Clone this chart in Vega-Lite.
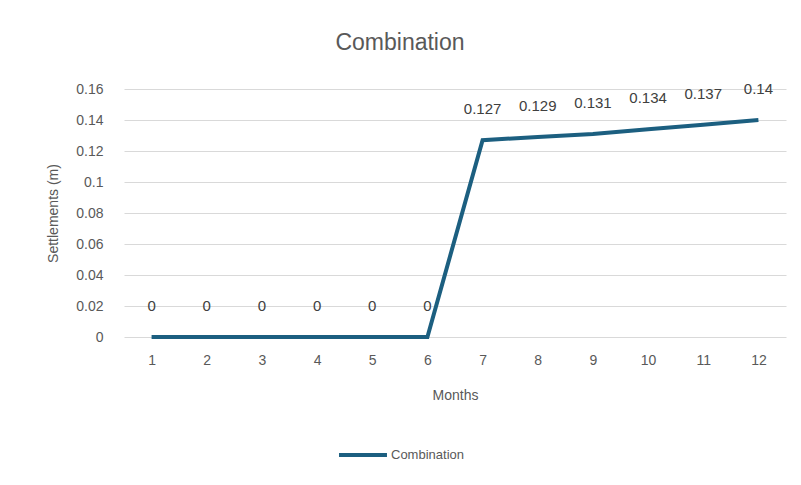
{
  "$schema": "https://vega.github.io/schema/vega-lite/v6.json",
  "width": 662,
  "height": 248,
  "autosize": {"type": "none"},
  "padding": {"left": 124, "top": 89, "right": 15, "bottom": 148},
  "background": "white",
  "title": {"text": "Combination", "fontSize": 23, "font": "Liberation Sans", "fontWeight": "normal", "color": "#595959", "anchor": "middle", "dx": -55, "offset": 27},
  "data": {"values": [
    {"month": 1, "value": 0, "series": "Combination"},
    {"month": 2, "value": 0, "series": "Combination"},
    {"month": 3, "value": 0, "series": "Combination"},
    {"month": 4, "value": 0, "series": "Combination"},
    {"month": 5, "value": 0, "series": "Combination"},
    {"month": 6, "value": 0, "series": "Combination"},
    {"month": 7, "value": 0.127, "series": "Combination"},
    {"month": 8, "value": 0.129, "series": "Combination"},
    {"month": 9, "value": 0.131, "series": "Combination"},
    {"month": 10, "value": 0.134, "series": "Combination"},
    {"month": 11, "value": 0.137, "series": "Combination"},
    {"month": 12, "value": 0.14, "series": "Combination"}
  ]},
  "encoding": {
    "x": {"field": "month", "type": "ordinal", "scale": {"type": "point", "padding": 0.5},
      "axis": {"title": "Months", "labelAngle": 0, "domain": false, "ticks": false, "grid": false, "labelPadding": 16, "titlePadding": 21}},
    "y": {"field": "value", "type": "quantitative", "scale": {"domain": [0, 0.16]},
      "axis": {"title": "Settlements (m)", "format": ".2~f", "values": [0, 0.02, 0.04, 0.06, 0.08, 0.1, 0.12, 0.14, 0.16], "domain": false, "ticks": false, "labelPadding": 21, "titlePadding": 15}}
  },
  "layer": [
    {"mark": {"type": "line", "strokeWidth": 4},
     "encoding": {"color": {"field": "series", "type": "nominal", "scale": {"range": ["#1c5f80"]},
       "legend": {"title": null, "orient": "none", "legendX": 213, "legendY": 340, "symbolType": "stroke", "symbolSize": 2300, "symbolStrokeWidth": 4, "labelOffset": 2}}}},
    {"mark": {"type": "text", "dy": -31, "fontSize": 15, "font": "Liberation Sans", "color": "#404040"},
     "encoding": {"text": {"field": "value", "type": "quantitative"}}}
  ],
  "config": {
    "view": {"stroke": null},
    "font": "Liberation Sans",
    "axis": {"labelFont": "Liberation Sans", "titleFont": "Liberation Sans", "labelFontSize": 14, "titleFontSize": 14, "labelColor": "#595959", "titleColor": "#595959", "titleFontWeight": "normal", "gridColor": "#d9d9d9", "gridWidth": 1},
    "legend": {"labelFont": "Liberation Sans", "labelFontSize": 13, "labelColor": "#595959"}
  }
}
